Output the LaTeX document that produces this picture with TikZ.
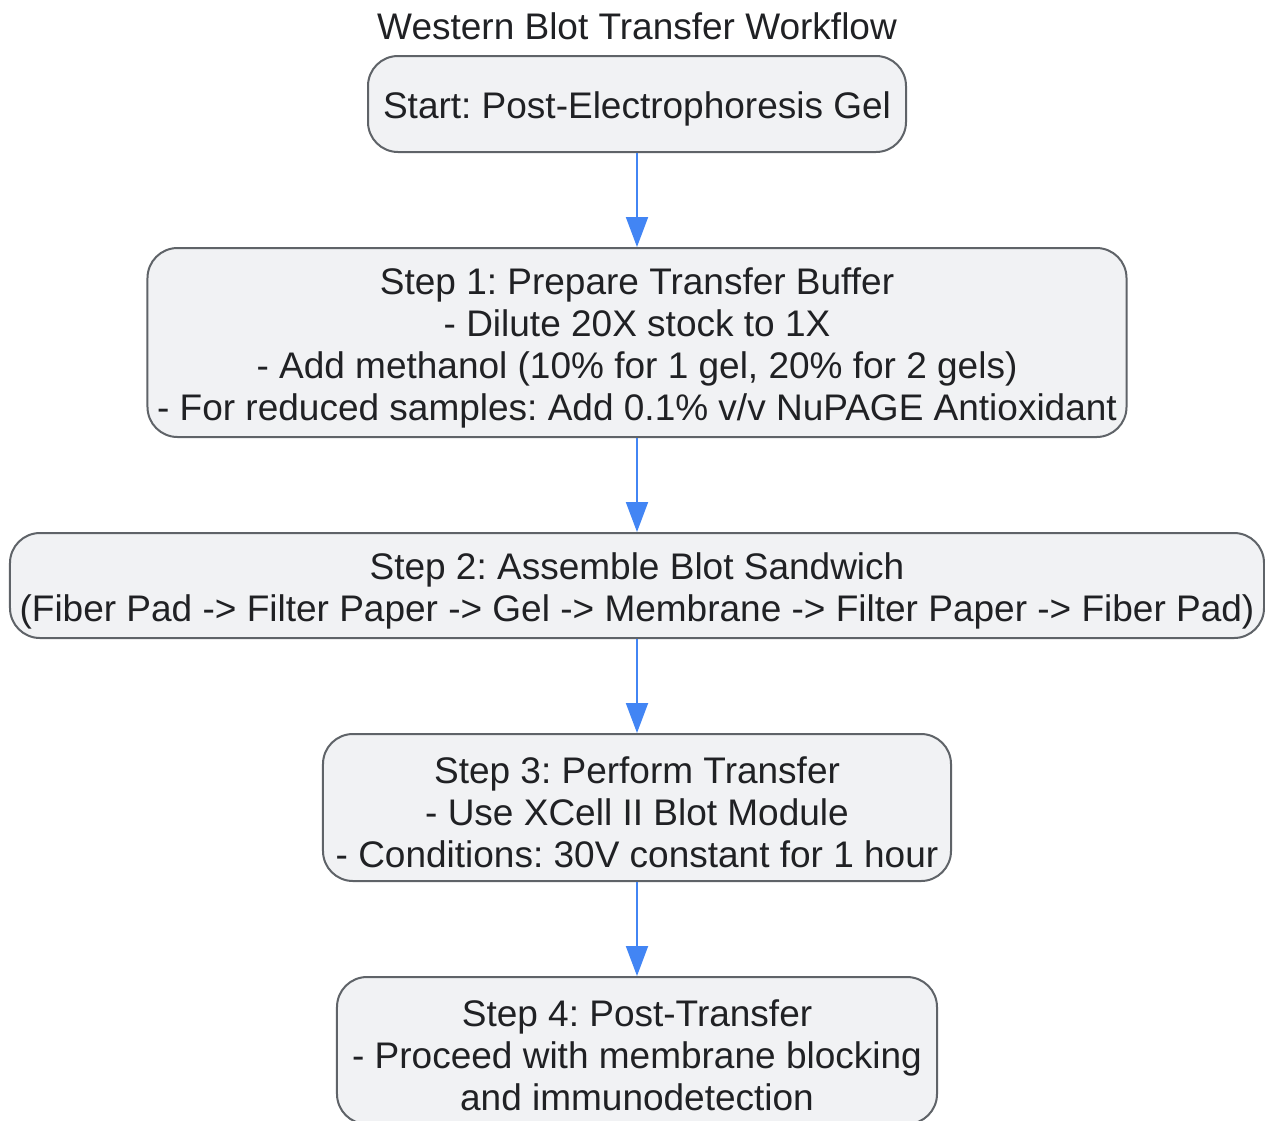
\documentclass[tikz,border=0pt]{standalone}
\usepackage{fontspec}
\setmainfont{Liberation Sans}
\usetikzlibrary{positioning,arrows.meta}
\definecolor{boxfill}{HTML}{F1F2F4}
\definecolor{boxline}{HTML}{5F6368}
\definecolor{txtcol}{HTML}{202124}
\definecolor{flowblue}{HTML}{4285F4}
\frenchspacing
\newcommand{\lineup}{\rule{0pt}{37bp}}
\begin{document}
\begin{tikzpicture}[x=1bp,y=1bp, node distance=94bp]
\tikzset{every node/.style={font=\fontsize{37bp}{42bp}\selectfont, text=txtcol, align=center, inner sep=0pt}}
\tikzset{stepbox/.style={draw=boxline, fill=boxfill, line width=2bp, rounded corners=30bp}}
\tikzset{flow/.style={draw=flowblue, line width=2bp, -{Triangle[length=30bp,width=22bp]}}}
%\tikzset{stepbox/.style={draw, rounded corners}}
\useasboundingbox (0,0) rectangle (1265,-1121);
\node (title) at (637,-26) {Western Blot Transfer Workflow};
\node[stepbox, minimum width=538bp, minimum height=96bp] (start) at (637,-104) {\lineup Start: Post-Electrophoresis Gel};
\node[stepbox, minimum width=979bp, minimum height=189bp, below=of start] (buffer)
    {\lineup Step 1: Prepare Transfer Buffer\\
     - Dilute 20X stock to 1X\\
     - Add methanol (10\% for 1 gel, 20\% for 2 gels)\\
     - For reduced samples: Add 0.1\% v/v NuPAGE Antioxidant};
\node[stepbox, minimum width=1254bp, minimum height=105bp, below=of buffer] (sandwich)
    {\lineup Step 2: Assemble Blot Sandwich\\
     (Fiber Pad -> Filter Paper -> Gel -> Membrane -> Filter Paper -> Fiber Pad)};
\node[stepbox, minimum width=628bp, minimum height=147bp, below=of sandwich] (transfer)
    {\lineup Step 3: Perform Transfer\\
     - Use XCell II Blot Module\\
     - Conditions: 30V constant for 1 hour};
\node[stepbox, minimum width=600bp, minimum height=147bp, below=of transfer] (post)
    {\lineup Step 4: Post-Transfer\\
     - Proceed with membrane blocking\\
     and immunodetection};
\draw[flow] (start) -- (buffer);
\draw[flow] (buffer) -- (sandwich);
\draw[flow] (sandwich) -- (transfer);
\draw[flow] (transfer) -- (post);
\end{tikzpicture}
\end{document}
